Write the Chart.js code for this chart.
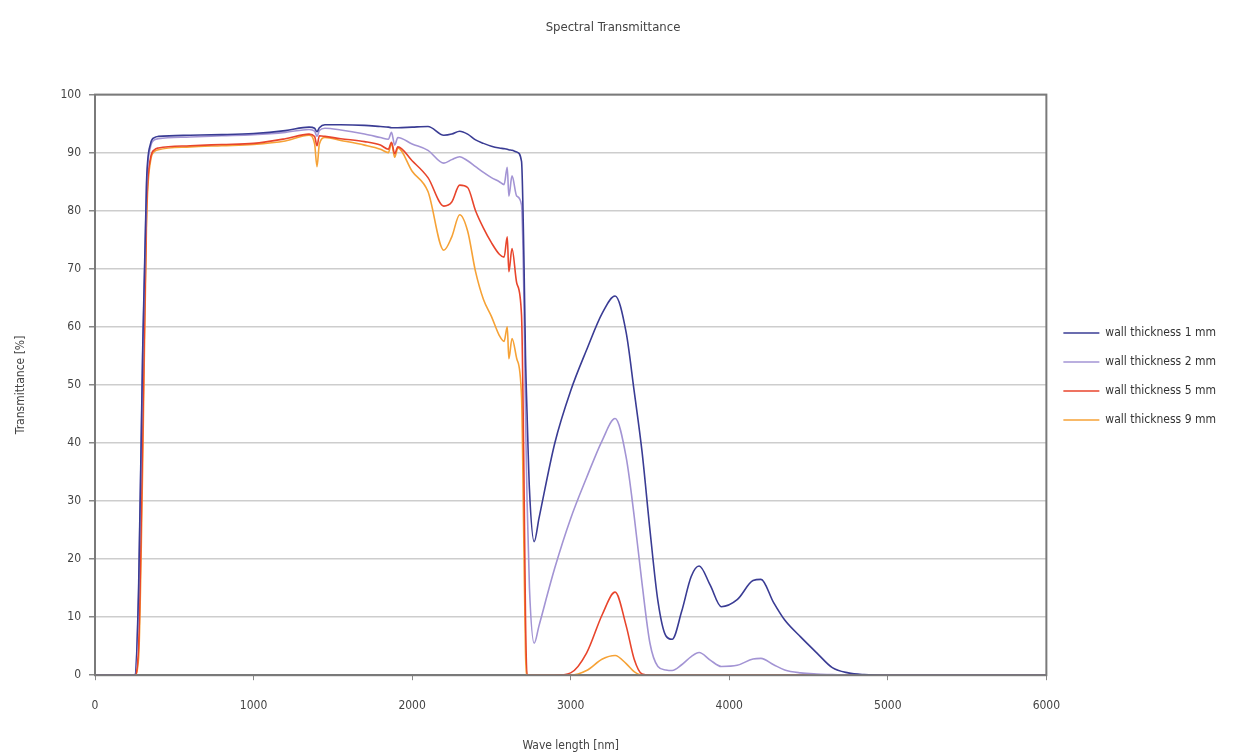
<!DOCTYPE html>
<html>
<head>
<meta charset="utf-8">
<script src="https://cdn.jsdelivr.net/npm/chart.js@4.4.1/dist/chart.umd.min.js"></script>
<style>
    html, body { margin: 0; padding: 0; background: #fff; }
    #wrap { width: 1247px; height: 753px; }
</style>
</head>
<body>
<div id="wrap"><canvas id="spectrumChart"></canvas></div>
<script>
// Wavelength grid (nm), shared by all series
const wavelengths = [0, 250, 275, 300, 325, 350, 375, 400, 600, 800, 1000, 1200, 1350, 1385, 1400, 1415, 1450, 1550, 1700, 1800,
    1850, 1870, 1890, 1910, 2000, 2100, 2200, 2250, 2300, 2350, 2400, 2450, 2500, 2550, 2580, 2600, 2610, 2630, 2660, 2690,
    2705, 2715, 2725, 2740, 2770, 2800, 2900, 3000, 3100, 3200, 3280, 3350, 3400, 3450, 3500, 3550, 3600, 3640, 3700, 3760,
    3810, 3880, 3950, 4050, 4150, 4200, 4280, 4350, 4450, 4550, 4650, 4750, 4850, 5000, 5500, 6000];

// Transmittance (%) per wall thickness
const wall1mm = [0, 0, 15, 55, 85, 91.5, 92.6, 92.8, 93.0, 93.1, 93.3, 93.8, 94.4, 94.2, 93.6, 94.3, 94.8, 94.8, 94.7, 94.5,
    94.4, 94.3, 94.3, 94.3, 94.4, 94.5, 93.0, 93.2, 93.7, 93.2, 92.2, 91.6, 91.1, 90.8, 90.7, 90.6, 90.5, 90.4, 90.1, 88.5,
    72, 55, 45, 32, 23, 27, 40, 49, 56, 62.4, 65.3, 59, 49, 38.5, 25, 12.8, 6.8, 6.2, 11, 17,
    18.8, 15.5, 11.8, 13, 16.3, 16.5, 12.5, 9.5, 6.6, 3.9, 1.3, 0.4, 0.1, 0, 0, 0];

const wall2mm = [0, 0, 14, 54, 84, 91, 92.2, 92.4, 92.7, 92.9, 93.1, 93.5, 94.0, 93.7, 92.8, 93.8, 94.2, 93.9, 93.2, 92.6,
    92.3, 93.5, 91.3, 92.6, 91.5, 90.4, 88.2, 88.8, 89.3, 88.6, 87.6, 86.6, 85.7, 85.0, 84.5, 87.5, 82.5, 86, 82.5, 81,
    65, 45, 30, 15, 5.5, 8.5, 18.5, 27, 34, 40.5, 44.2, 37.5, 27.5, 15.8, 5.5, 1.5, 0.9, 0.8, 1.8, 3.2,
    3.9, 2.6, 1.5, 1.7, 2.8, 2.9, 1.8, 0.9, 0.4, 0.2, 0.1, 0, 0, 0, 0, 0];

const wall5mm = [0, 0, 5, 40, 80, 89, 90.5, 90.8, 91.2, 91.4, 91.6, 92.4, 93.2, 92.8, 91.2, 92.9, 92.8, 92.4, 91.9, 91.3,
    90.6, 91.8, 89.8, 91.0, 88.6, 85.7, 80.8, 81.5, 84.4, 84.0, 80.0, 77, 74.5, 72.5, 72, 75.5, 69.5, 73.5, 67.5, 62,
    35, 10, 0, 0, 0, 0, 0, 0.4, 3.8, 10.5, 14.3, 8.5, 2.8, 0.2, 0, 0, 0, 0, 0, 0,
    0, 0, 0, 0, 0, 0, 0, 0, 0, 0, 0, 0, 0, 0, 0, 0];

const wall9mm = [0, 0, 3, 35, 78, 88.5, 90.2, 90.5, 91.0, 91.2, 91.4, 92.0, 93.0, 91.5, 87.6, 91.5, 92.6, 92.1, 91.3, 90.6,
    90.0, 91.6, 89.2, 90.8, 86.8, 83.3, 73.2, 75.5, 79.3, 76.5, 69.5, 64.7, 61.8, 58.5, 57.5, 60, 54.5, 58, 54.5, 48,
    22, 4, 0, 0, 0, 0, 0, 0, 0.8, 2.8, 3.4, 2.0, 0.6, 0, 0, 0, 0, 0, 0, 0,
    0, 0, 0, 0, 0, 0, 0, 0, 0, 0, 0, 0, 0, 0, 0, 0];

const seriesLabels = ['wall thickness 1 mm', 'wall thickness 2 mm', 'wall thickness 5 mm', 'wall thickness 9 mm'];
const seriesColors = ['#3a3c94', '#a394d4', '#e8452c', '#f6a236'];

const FONT = "'Liberation Sans Narrow', 'DejaVu Sans Condensed', 'DejaVu Sans', sans-serif";

function toPoints(values) {
    return wavelengths.map((x, i) => ({ x: x, y: values[i] }));
}

// draws the dark frame round the plot area
const plotFrame = {
    id: 'plotFrame',
    afterDraw(chart) {
        const { ctx, chartArea } = chart;
        ctx.save();
        ctx.strokeStyle = '#7a7a7a';
        ctx.lineWidth = 2;
        ctx.strokeRect(chartArea.left, chartArea.top,
            chartArea.right - chartArea.left, chartArea.bottom - chartArea.top);
        ctx.restore();
    }
};

const ctx = document.getElementById('spectrumChart').getContext('2d');
const spectrumChart = new Chart(ctx, {
    type: 'line',
    data: {
        datasets: [wall1mm, wall2mm, wall5mm, wall9mm].map((values, i) => ({
            label: seriesLabels[i],
            data: toPoints(values),
            borderColor: seriesColors[i],
            backgroundColor: seriesColors[i],
            borderWidth: 1.6,
            pointRadius: 0,
            pointStyle: 'line',
            cubicInterpolationMode: 'monotone'
        }))
    },
    options: {
        responsive: true,
        maintainAspectRatio: false,
        animation: false,
        layout: { padding: { left: 0, right: 21, top: 0, bottom: 0 } },
        plugins: {
            title: {
                display: true,
                text: 'Spectral Transmittance',
                color: '#444',
                font: { family: FONT, size: 13, weight: 'normal' },
                padding: { top: 20, bottom: 59 }
            },
            legend: {
                position: 'right',
                labels: {
                    usePointStyle: true,
                    pointStyleWidth: 36,
                    boxHeight: 10,
                    padding: 17,
                    color: '#333',
                    font: { family: FONT, size: 12 }
                }
            },
            tooltip: { enabled: false }
        },
        scales: {
            x: {
                type: 'linear',
                min: 0,
                max: 6000,
                ticks: {
                    stepSize: 1000, color: '#444', padding: 18,
                    font: { family: FONT, size: 12 },
                    callback: (value) => String(value)
                },
                grid: { drawOnChartArea: false, color: '#888', tickLength: 5 },
                border: { color: '#7a7a7a', width: 2 },
                title: {
                    display: true,
                    text: 'Wave length [nm]',
                    color: '#444',
                    font: { family: FONT, size: 12 },
                    padding: { top: 8, bottom: 0 }
                }
            },
            y: {
                min: 0,
                max: 100,
                ticks: { stepSize: 10, color: '#444', padding: 8, font: { family: FONT, size: 12 } },
                grid: { color: '#cdcdcd', lineWidth: 1.5, tickLength: 6, tickColor: '#888' },
                border: { color: '#7a7a7a', width: 2 },
                title: {
                    display: true,
                    text: 'Transmittance [%]',
                    color: '#444',
                    font: { family: FONT, size: 12 },
                    padding: { top: 14, bottom: 0 }
                },
                afterFit(scale) { scale.width = 95; }
            }
        }
    },
    plugins: [plotFrame]
});
</script>
</body>
</html>
